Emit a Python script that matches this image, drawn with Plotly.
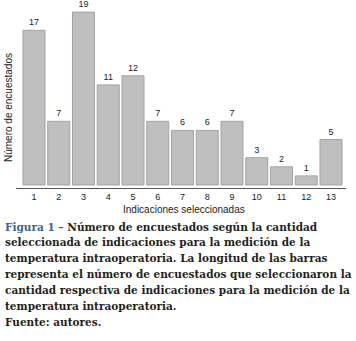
import plotly.graph_objects as go

categories = [str(i) for i in range(1, 14)]
counts = [17, 7, 19, 11, 12, 7, 6, 6, 7, 3, 2, 1, 5]

x_title = "Indicaciones seleccionadas"
y_title = "Número de encuestados"
caption_lines = [
    "<span style='color:#3d6399'>Figura 1 –</span> Número de encuestados según la cantidad",
    "seleccionada de indicaciones para la medición de la",
    "temperatura intraoperatoria. La longitud de las barras",
    "representa el número de encuestados que seleccionaron la",
    "cantidad respectiva de indicaciones para la medición de la",
    "temperatura intraoperatoria.",
    "Fuente: autores.",
]

W, H = 356, 341
L, R, T, B = 16, 10, 0, 153
PW, PH = W - L - R, H - T - B

def px_x(x):
    return (x - L) / PW

def px_y(y):
    return (T + PH - y) / PH

fig = go.Figure()
fig.add_trace(go.Bar(
    x=list(range(1, 14)), y=counts,
    marker=dict(color="#bfbfbf", line=dict(color="#a3a3a3", width=1)),
    text=[str(v) for v in counts], textposition="outside",
    textfont=dict(family="Liberation Sans, Arial", size=9, color="#222"),
    cliponaxis=False,
))

annotations = [
    dict(text=y_title, xref="paper", yref="paper", x=px_x(8), y=px_y(108),
         textangle=-90, showarrow=False, xanchor="center", yanchor="middle",
         font=dict(size=10, color="#222")),
    dict(text=x_title, xref="paper", yref="paper", x=px_x(184), y=px_y(209),
         showarrow=False, xanchor="center", yanchor="middle",
         font=dict(size=10, color="#222")),
]
for i, line in enumerate(caption_lines):
    annotations.append(dict(
        text="<b>" + line + "</b>", xref="paper", yref="paper",
        x=px_x(3), y=px_y(226.5 + i * 15.9),
        showarrow=False, xanchor="left", yanchor="middle", align="left",
        font=dict(family="DejaVu Serif, serif", size=10.5, color="#231f20"),
    ))

fig.update_layout(
    width=W, height=H,
    margin=dict(l=L, r=R, t=T, b=B),
    paper_bgcolor="white", plot_bgcolor="white",
    bargap=0.11, showlegend=False,
    font=dict(family="Liberation Sans, Arial", color="#222"),
    xaxis=dict(
        range=[0.273, 13.606], tickmode="array",
        tickvals=list(range(1, 14)), ticktext=categories,
        showline=True, linecolor="#555", linewidth=1,
        ticks="",
        tickfont=dict(size=9, color="#222"),
        showgrid=False, zeroline=False, fixedrange=True,
    ),
    yaxis=dict(
        range=[-0.33, 20.33], showticklabels=False, showgrid=False,
        zeroline=False, showline=False, ticks="",
    ),
    annotations=annotations,
)

fig.write_html("out.html")
